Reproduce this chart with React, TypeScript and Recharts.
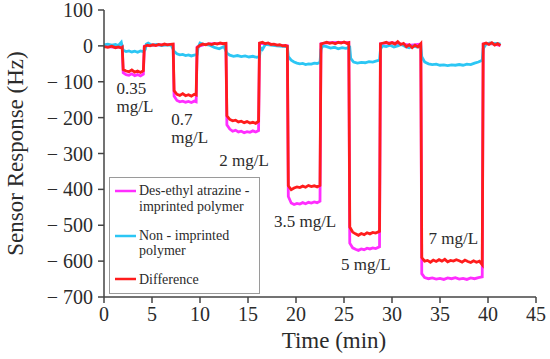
import React from 'react';
import { LineChart, Line, XAxis, YAxis, Legend, ReferenceDot } from 'recharts';

// sensor response vs time
const imprinted: [number, number][] = [
  [0, -1], [0.6, -3], [1.2, -4], [1.9, -3],
  [2.0, -75], [2.3, -80], [2.6, -82], [2.9, -78], [3.2, -83], [3.5, -80], [3.8, -84], [4.1, -79],
  [4.2, -1], [5.0, 2], [6.0, 3], [7.2, 4],
  [7.3, -140], [7.6, -152], [7.9, -156], [8.2, -154], [8.5, -157], [8.8, -155], [9.1, -158], [9.4, -154], [9.6, -156],
  [9.7, -3], [10.5, 4], [11.5, 6], [12.7, 6],
  [12.8, -220], [13.1, -232], [13.4, -238], [13.7, -235], [14.0, -240], [14.3, -238], [14.6, -242], [14.9, -239],
  [15.2, -241], [15.5, -237], [15.8, -240], [16.1, -236],
  [16.2, 7], [17.0, 6], [18.0, 2], [19.1, 0],
  [19.2, -420], [19.5, -438], [19.8, -442], [20.1, -439], [20.4, -441], [20.7, -437], [21.0, -440], [21.3, -436],
  [21.6, -438], [21.9, -435], [22.2, -437], [22.5, -433],
  [22.6, 6], [23.5, 9], [24.5, 10], [25.5, 9],
  [25.6, -550], [25.9, -563], [26.2, -567], [26.5, -570], [26.8, -566], [27.1, -568], [27.4, -564], [27.7, -566],
  [28.0, -563], [28.3, -565], [28.7, -560],
  [28.8, 6], [30.0, 9], [31.0, 5], [32.0, 2], [33.0, 5],
  [33.1, -635], [33.4, -646], [33.8, -649], [34.2, -647], [34.6, -650], [35.0, -648], [35.4, -651], [35.8, -647],
  [36.2, -649], [36.6, -646], [37.0, -650], [37.4, -648], [37.8, -651], [38.2, -647], [38.6, -649], [39.0, -646], [39.4, -644],
  [39.5, 5], [40.5, 6], [41.3, 1],
];

const nonImprinted: [number, number][] = [
  [0, 3], [0.4, 5], [0.8, 2], [1.2, 4], [1.5, 1], [1.8, 10], [1.95, -8],
  [2.0, -12], [2.3, -16], [2.6, -14], [2.9, -17], [3.2, -15], [3.5, -18], [3.8, -14], [4.1, -16], [4.3, -10], [4.4, 5], [4.6, 8],
  [5.0, 2], [5.5, 4], [6.0, 1], [6.5, 3], [7.0, 2], [7.3, -15],
  [7.6, -22], [7.9, -25], [8.2, -24], [8.5, -27], [8.8, -25], [9.1, -28], [9.4, -26], [9.7, -24], [9.8, -5], [10.0, 8], [10.3, 5],
  [11.0, 2], [11.5, -4], [12.0, -8], [12.5, -2], [12.8, -20],
  [13.1, -26], [13.5, -29], [13.9, -27], [14.3, -30], [14.7, -28], [15.1, -31], [15.5, -29], [15.9, -32], [16.2, -30],
  [16.3, -5], [16.5, -10], [16.8, 4], [17.4, 2], [18.0, 0], [18.6, -1], [19.1, -3], [19.2, -30],
  [19.5, -40], [19.8, -45], [20.1, -48], [20.4, -50], [20.7, -49], [21.0, -52], [21.3, -50], [21.6, -51], [21.9, -48],
  [22.2, -49], [22.5, -46], [22.6, -10], [22.8, 0],
  [23.2, -2], [23.6, -6], [24.0, -4], [24.4, -8], [24.8, -5], [25.2, -7], [25.6, -4], [25.7, -35],
  [26.0, -45], [26.4, -48], [26.8, -46], [27.2, -47], [27.6, -44], [28.0, -45], [28.4, -42], [28.7, -40], [28.8, -10], [29.0, 0],
  [29.4, -2], [29.8, 2], [30.2, -3], [30.6, 0], [31.0, 4], [31.4, -2], [31.8, -5], [32.2, 0], [32.6, -3], [33.0, -1], [33.1, -30],
  [33.4, -45], [33.8, -50], [34.2, -52], [34.6, -51], [35.0, -54], [35.4, -53], [35.8, -55], [36.2, -53], [36.6, -54],
  [37.0, -52], [37.4, -54], [37.8, -51], [38.2, -52], [38.6, -48], [39.0, -45], [39.4, -40], [39.5, -8], [39.8, 5],
  [40.2, 8], [40.6, 6], [41.0, 7], [41.3, 5],
];

const difference: [number, number][] = [
  [0, -2], [0.4, -4], [0.8, -1], [1.2, -5], [1.5, -3], [1.8, -6], [1.9, -4],
  [2.0, -66], [2.3, -70], [2.6, -72], [2.9, -67], [3.2, -73], [3.5, -70], [3.8, -74], [4.1, -69],
  [4.2, -2], [4.5, 2], [4.8, 0], [5.1, 3], [5.4, 1], [5.7, 4], [6.0, 2], [6.3, 5], [6.6, 3], [6.9, 4], [7.2, 5],
  [7.3, -125], [7.6, -135], [7.9, -138], [8.2, -133], [8.5, -139], [8.8, -136], [9.1, -140], [9.4, -135], [9.6, -137],
  [9.7, -5], [10.0, 2], [10.3, 5], [10.6, 3], [10.9, 6], [11.2, 4], [11.5, 7], [11.8, 5], [12.1, 8], [12.4, 6], [12.7, 7],
  [12.8, -195], [13.1, -205], [13.4, -209], [13.7, -207], [14.0, -212], [14.3, -210], [14.6, -214], [14.9, -211],
  [15.2, -215], [15.5, -213], [15.8, -216], [16.1, -210],
  [16.2, 8], [16.5, 10], [16.8, 6], [17.1, 8], [17.4, 4], [17.7, 5], [18.0, 2], [18.3, 3], [18.6, 0], [18.9, 1], [19.1, -1],
  [19.2, -390], [19.5, -401], [19.8, -396], [20.1, -393], [20.4, -395], [20.7, -391], [21.0, -394], [21.3, -389],
  [21.6, -392], [21.9, -390], [22.2, -393], [22.5, -389],
  [22.6, 5], [22.9, 8], [23.2, 10], [23.5, 7], [23.8, 9], [24.1, 6], [24.4, 10], [24.7, 8], [25.0, 11], [25.3, 7], [25.5, 9],
  [25.6, -505], [25.9, -519], [26.2, -524], [26.5, -528], [26.8, -523], [27.1, -526], [27.4, -521], [27.7, -524],
  [28.0, -520], [28.3, -522], [28.7, -517],
  [28.8, 6], [29.1, 8], [29.4, 10], [29.7, 6], [30.0, 9], [30.3, 5], [30.6, 12], [30.9, 4], [31.2, 7], [31.5, -2],
  [31.8, 3], [32.1, -5], [32.4, 2], [32.7, -3], [33.0, 6],
  [33.1, -590], [33.4, -600], [33.7, -598], [34.0, -603], [34.3, -597], [34.6, -601], [34.9, -596], [35.2, -600],
  [35.5, -595], [35.8, -602], [36.1, -598], [36.4, -600], [36.7, -596], [37.0, -599], [37.3, -603], [37.6, -597],
  [37.9, -601], [38.2, -604], [38.5, -599], [38.8, -603], [39.1, -600], [39.4, -610],
  [39.5, 5], [39.8, 8], [40.1, 4], [40.4, 9], [40.7, 2], [41.0, 6], [41.3, 1],
];

const xTicks = [0, 5, 10, 15, 20, 25, 30, 35, 40, 45];
const yTicks = [100, 0, -100, -200, -300, -400, -500, -600, -700];

// concentration labels: data-space anchor of the first line's baseline
const concLabels = [
  { x: 1.3, y: -134, lines: ['0.35', 'mg/L'] },
  { x: 7.0, y: -221, lines: ['0.7', 'mg/L'] },
  { x: 12.0, y: -334, lines: ['2 mg/L'] },
  { x: 17.7, y: -505, lines: ['3.5 mg/L'] },
  { x: 24.7, y: -626, lines: ['5 mg/L'] },
  { x: 33.8, y: -551, lines: ['7 mg/L'] },
];

const MAGENTA = '#ff2eff';
const CYAN = '#2cc6f4';
const RED = '#ff1c1c';
const INK = '#2b2b2b';
const AXIS = '#444';
const FONT = 'Liberation Serif, serif';
const serif = { fontFamily: FONT };

const toRows = (pts: [number, number][]) => pts.map(([t, v]) => ({ t, v }));

const XTick = (props: any) => {
  const { x, y, payload } = props;
  return (
    <text x={x} y={y} dy="0.71em" textAnchor="middle" fontSize={20} fill={INK} style={serif}>
      {payload.value}
    </text>
  );
};

const YTick = (props: any) => {
  const { x, y, payload } = props;
  const v: number = payload.value;
  const txt = v < 0 ? `\u2212 ${Math.abs(v)}` : `${v}`;
  return (
    <text x={x} y={y} dy="0.35em" textAnchor="end" fontSize={20} fill={INK} style={serif}>
      {txt}
    </text>
  );
};

const LegendBox = () => {
  const rows = [
    { color: MAGENTA, y: 14, lines: ['Des-ethyl atrazine -', 'imprinted polymer'], base: 18 },
    { color: CYAN, y: 59, lines: ['Non - imprinted', 'polymer'], base: 62.5 },
    { color: RED, y: 102, lines: ['Difference'], base: 106.5 },
  ];
  return (
    <svg width={151} height={117} style={{ display: 'block' }}>
      <rect x={0.5} y={0.5} width={150} height={116} fill="#fff" stroke="#9a9a9a" strokeWidth={1} />
      {rows.map((r) => (
        <g key={r.color}>
          <line x1={6} x2={27} y1={r.y} y2={r.y} stroke={r.color} strokeWidth={2.5} />
          {r.lines.map((l, i) => (
            <text key={l} x={30} y={r.base + i * 15.5} fontSize={14} fill={INK} style={serif}>
              {l}
            </text>
          ))}
        </g>
      ))}
    </svg>
  );
};

export default function App() {
  return (
    <div style={{ position: 'absolute', left: 0, top: 0, width: 550, height: 359, background: '#fff', fontFamily: FONT }}>
      <LineChart width={550} height={359} margin={{ top: 10, right: 14, bottom: 0, left: 0 }}>
        <XAxis
          type="number"
          dataKey="t"
          domain={[0, 45]}
          ticks={xTicks}
          allowDuplicatedCategory={false}
          height={62}
          stroke={AXIS}
          strokeWidth={1.5}
          tickSize={6}
          tickMargin={4}
          tick={<XTick />}
          label={{ value: 'Time (min)', position: 'insideBottom', offset: 11, dx: 14, fontSize: 23, fill: INK, style: serif }}
        />
        <YAxis
          type="number"
          domain={[-700, 100]}
          ticks={yTicks}
          width={104}
          stroke={AXIS}
          strokeWidth={1.5}
          tickSize={6}
          tickMargin={5}
          tick={<YTick />}
          label={{
            value: 'Sensor Response (Hz)',
            angle: -90,
            position: 'insideLeft',
            offset: 15,
            fontSize: 23,
            fill: INK,
            style: { textAnchor: 'middle', fontFamily: FONT },
          }}
        />
        <Legend
          layout="horizontal"
          verticalAlign="middle"
          align="center"
          wrapperStyle={{ position: 'absolute', left: 109, top: 177, width: 151, height: 117 }}
          content={() => <LegendBox />}
        />
        <Line data={toRows(imprinted)} dataKey="v" type="linear" stroke={MAGENTA} strokeWidth={2.8} dot={false} isAnimationActive={false} />
        <Line data={toRows(nonImprinted)} dataKey="v" type="linear" stroke={CYAN} strokeWidth={2.8} dot={false} isAnimationActive={false} />
        <Line data={toRows(difference)} dataKey="v" type="linear" stroke={RED} strokeWidth={2.8} dot={false} isAnimationActive={false} />
        {concLabels.map((c) => (
          <ReferenceDot
            key={c.lines.join(' ')}
            x={c.x}
            y={c.y}
            r={0}
            ifOverflow="visible"
            shape={(p: any) => (
              <text x={p.cx} y={p.cy} fontSize={17} fill={INK} style={serif}>
                {c.lines.map((l, i) => (
                  <tspan key={l} x={p.cx} dy={i === 0 ? 0 : 18}>
                    {l}
                  </tspan>
                ))}
              </text>
            )}
          />
        ))}
      </LineChart>
    </div>
  );
}
